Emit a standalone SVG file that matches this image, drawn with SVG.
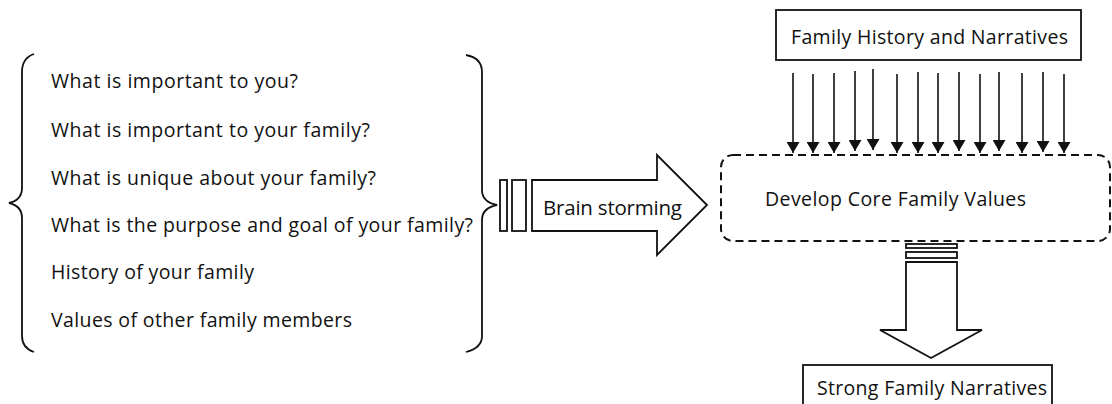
<svg xmlns="http://www.w3.org/2000/svg" width="1112" height="404" viewBox="0 0 1112 404">
<style>
  text { font-family: "Open Sans", "Liberation Sans", Arial, sans-serif; font-size: 19.5px; fill: #111; }
  .ln { fill: none; stroke: #111; stroke-width: 1.8; }
  .box { fill: #fff; stroke: #111; stroke-width: 1.8; }
  .dash { fill: none; stroke: #111; stroke-width: 2; stroke-dasharray: 8 5; }
  .arr { stroke: #111; stroke-width: 1.6; fill: none; marker-end: url(#tri); }
</style>
<defs>
  <marker id="tri" viewBox="0 0 11 13" refX="11" refY="6.5" markerWidth="11" markerHeight="13" markerUnits="userSpaceOnUse" orient="auto">
    <path d="M0,0 L11,6.5 L0,13 Z" fill="#111"/>
  </marker>
</defs>
<rect width="1112" height="404" fill="#fff"/>

<g id="questions">
  <path class="ln" d="M34,54 Q22,58 22,72 L22,188 Q22,200 9,203 Q22,206 22,218 L22,336 Q22,348 34,352"/>
  <path class="ln" d="M466,55 Q482,58 482,72 L482,190 Q482,202 497,205 Q482,208 482,220 L482,336 Q482,348 466,352"/>
  <text x="51" y="88" textLength="247" lengthAdjust="spacing">What is important to you?</text>
  <text x="51" y="137" textLength="319" lengthAdjust="spacing">What is important to your family?</text>
  <text x="51" y="185" textLength="325" lengthAdjust="spacing">What is unique about your family?</text>
  <text x="51" y="232" textLength="422" lengthAdjust="spacing">What is the purpose and goal of your family?</text>
  <text x="51" y="279" textLength="203" lengthAdjust="spacing">History of your family</text>
  <text x="51" y="327" textLength="301" lengthAdjust="spacing">Values of other family members</text>
</g>

<g id="brainstorming">
  <rect class="box" x="500" y="180" width="7" height="51"/>
  <rect class="box" x="512" y="180" width="14" height="51"/>
  <polygon class="box" points="532,180 657,180 657,155 707,205 657,255 657,231 532,231"/>
  <text x="543" y="215" style="font-size:20.5px" textLength="139" lengthAdjust="spacing">Brain storming</text>
</g>

<g id="history">
  <rect class="box" x="776" y="10" width="305" height="50"/>
  <text x="791" y="44" textLength="277" lengthAdjust="spacing">Family History and Narratives</text>
</g>

<g id="core">
  <rect class="dash" x="721" y="155" width="389" height="86" rx="12" ry="12"/>
  <text x="765" y="206" textLength="261" lengthAdjust="spacing">Develop Core Family Values</text>
</g>

<g id="connectors">
  <line class="arr" x1="793" y1="73" x2="793" y2="153"/>
  <line class="arr" x1="813" y1="74" x2="813" y2="153"/>
  <line class="arr" x1="834" y1="73" x2="834" y2="153"/>
  <line class="arr" x1="855" y1="71" x2="855" y2="151"/>
  <line class="arr" x1="873" y1="69" x2="873" y2="150"/>
  <line class="arr" x1="897" y1="74" x2="897" y2="153"/>
  <line class="arr" x1="918" y1="72" x2="918" y2="153"/>
  <line class="arr" x1="938" y1="73" x2="938" y2="153"/>
  <line class="arr" x1="959" y1="72" x2="959" y2="151"/>
  <line class="arr" x1="980" y1="74" x2="980" y2="153"/>
  <line class="arr" x1="999" y1="72" x2="999" y2="151"/>
  <line class="arr" x1="1022" y1="73" x2="1022" y2="153"/>
  <line class="arr" x1="1043" y1="72" x2="1043" y2="152"/>
  <line class="arr" x1="1064" y1="74" x2="1064" y2="153"/>
</g>

<g id="down-arrow">
  <rect class="box" x="906" y="244" width="51" height="4"/>
  <rect class="box" x="906" y="252" width="51" height="6"/>
  <polygon class="box" points="906,262 957,262 957,330 982,330 931,358 880,330 906,330"/>
</g>

<g id="strong">
  <rect class="box" x="803" y="365" width="249" height="50"/>
  <text x="817" y="395" textLength="230" lengthAdjust="spacing">Strong Family Narratives</text>
</g>
</svg>
